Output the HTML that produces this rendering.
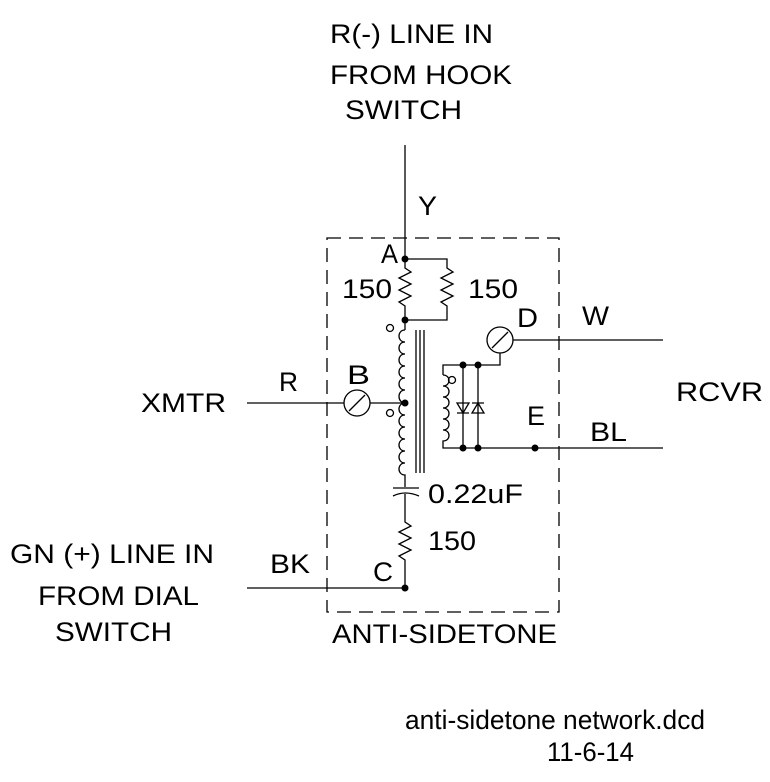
<!DOCTYPE html>
<html><head><style>body{margin:0;background:#fff}svg{display:block}text{font-family:"Liberation Sans",sans-serif;font-size:27px;fill:#000}</style></head>
<body>
<svg width="770" height="782" viewBox="0 0 770 782" xmlns="http://www.w3.org/2000/svg">
<g stroke="#000" stroke-width="1.3" fill="none">
<rect x="327" y="238" width="232" height="374" stroke-dasharray="14,8"/>
<path d="M405 145 V259"/>
<path d="M405 259 H447 V268 l6 4 -12 6 12 6 -12 6 12 6 -12 6 6 4 V320 H405"/>
<path d="M405 259 V268 l6 4 -12 6 12 6 -12 6 12 6 -12 6 6 4 V330"/>
<path d="M405 330 c-8 0 -8 12 0 12 c-8 0 -8 12 0 12 c-8 0 -8 12 0 12 c-8 0 -8 12 0 12 c-8 0 -8 12 0 12 c-8 0 -8 13 0 13"/>
<path d="M405 403 c-8 0 -8 12 0 12 c-8 0 -8 12 0 12 c-8 0 -8 12 0 12 c-8 0 -8 12 0 12 c-8 0 -8 12 0 12 c-8 0 -8 12 0 12 V487"/>
<path d="M416 330 V473 M420 330 V473 M424 330 V473"/>
<path d="M393 488 H419 M393 496 Q405 490 419 496"/>
<path d="M405 494 V522 l6 4 -12 6 12 6 -12 6 12 6 -12 6 6 4 V588"/>
<path d="M247 588 H405"/>
<path d="M247 403 H344 M370 403 H405"/>
<circle cx="357" cy="403" r="13"/><path d="M349 411 L365 395"/>
<circle cx="500" cy="340" r="13"/><path d="M492 348 L508 332"/>
<path d="M513 340 H663"/>
<path d="M500 353 V365 H443 V375"/>
<path d="M443 375 c8 0 8 11 0 11 c8 0 8 11 0 11 c8 0 8 11 0 11 c8 0 8 11 0 11 c8 0 8 11 0 11 c8 0 8 11 0 11 V448 H663"/>
<path d="M463 365 V448 M478 365 V448"/>
<path d="M457 403 H469 L463 413 Z M457 413 H469"/>
<path d="M472 413 H484 L478 403 Z M472 403 H484"/>
<circle cx="390" cy="328" r="3.5"/><circle cx="390" cy="413" r="3.5"/><circle cx="452" cy="380" r="3.5"/>
</g>
<g fill="#000">
<circle cx="405" cy="259" r="3.5"/><circle cx="405" cy="320" r="3.5"/><circle cx="405" cy="403" r="3.5"/><circle cx="405" cy="588" r="3.5"/>
<circle cx="463" cy="365" r="3.5"/><circle cx="478" cy="365" r="3.5"/><circle cx="463" cy="448" r="3.5"/><circle cx="478" cy="448" r="3.5"/><circle cx="535" cy="448" r="3.5"/>
</g>
<g lengthAdjust="spacingAndGlyphs">
<text x="330" y="43" textLength="163" lengthAdjust="spacingAndGlyphs">R(-) LINE IN</text>
<text x="330" y="84" textLength="182" lengthAdjust="spacingAndGlyphs">FROM HOOK</text>
<text x="345" y="119" textLength="117" lengthAdjust="spacingAndGlyphs">SWITCH</text>
<text x="418" y="215" textLength="19" lengthAdjust="spacingAndGlyphs">Y</text>
<text x="381" y="263" textLength="17" lengthAdjust="spacingAndGlyphs">A</text>
<text x="342" y="298" textLength="50" lengthAdjust="spacingAndGlyphs">150</text>
<text x="468" y="298" textLength="50" lengthAdjust="spacingAndGlyphs">150</text>
<text x="517" y="327" textLength="21" lengthAdjust="spacingAndGlyphs">D</text>
<text x="582" y="325" textLength="27" lengthAdjust="spacingAndGlyphs">W</text>
<text x="141" y="412" textLength="85" lengthAdjust="spacingAndGlyphs">XMTR</text>
<text x="279" y="391" textLength="19" lengthAdjust="spacingAndGlyphs">R</text>
<text x="347" y="384" textLength="23" lengthAdjust="spacingAndGlyphs">B</text>
<text x="676" y="401" textLength="87" lengthAdjust="spacingAndGlyphs">RCVR</text>
<text x="527" y="425" textLength="18" lengthAdjust="spacingAndGlyphs">E</text>
<text x="590" y="441" textLength="37" lengthAdjust="spacingAndGlyphs">BL</text>
<text x="428" y="503" textLength="95" lengthAdjust="spacingAndGlyphs">0.22uF</text>
<text x="428" y="550" textLength="48" lengthAdjust="spacingAndGlyphs">150</text>
<text x="373" y="581" textLength="20" lengthAdjust="spacingAndGlyphs">C</text>
<text x="270" y="573" textLength="40" lengthAdjust="spacingAndGlyphs">BK</text>
<text x="10" y="563" textLength="204" lengthAdjust="spacingAndGlyphs">GN (+) LINE IN</text>
<text x="38" y="605" textLength="161" lengthAdjust="spacingAndGlyphs">FROM DIAL</text>
<text x="55" y="641" textLength="117" lengthAdjust="spacingAndGlyphs">SWITCH</text>
<text x="332" y="643" textLength="225" lengthAdjust="spacingAndGlyphs">ANTI-SIDETONE</text>
<text x="405" y="729" textLength="300" lengthAdjust="spacingAndGlyphs">anti-sidetone network.dcd</text>
<text x="547" y="761" textLength="87" lengthAdjust="spacingAndGlyphs">11-6-14</text>
</g>
</svg>
</body></html>
